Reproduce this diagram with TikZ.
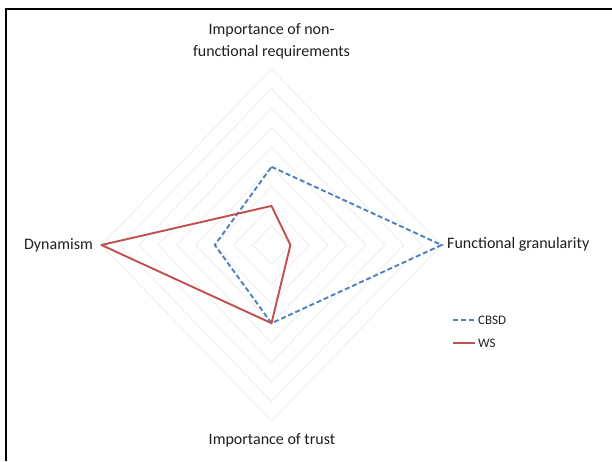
\documentclass[tikz,border=0pt]{standalone}
\usepackage{fontspec}
\setmainfont{Carlito}
\definecolor{cbsdblue}{HTML}{4F81BD}
\definecolor{wsred}{HTML}{C0504D}
\definecolor{gridgrey}{HTML}{EFEFEF}
\begin{document}
\begin{tikzpicture}[x=1pt,y=-1pt,
  gridline/.style={draw=gridgrey, line width=0.9pt},
  cbsdline/.style={draw=cbsdblue, line width=1.9pt, dash pattern=on 5pt off 2.8pt},
  wsline/.style={draw=wsred, line width=1.9pt},
  axislabel/.style={font=\fontsize{16}{22}\selectfont, text=black!88, align=center, inner sep=0pt},
  legendlabel/.style={font=\fontsize{13}{15}\selectfont, text=black!88, anchor=west, inner sep=0pt}]
  \useasboundingbox (0,0) rectangle (612,461);
  \fill[white] (0,0) rectangle (612,461);
  % frame
  \draw[line width=2.8pt, line join=miter] (6,461) -- (6,9) -- (612,9);

  % radar chart, scale 0..9
  \begin{scope}[shift={(271.5,245)}, x=18.9pt, y=19.55pt]
    \foreach \k in {1,...,9}
      \draw[gridline] (0,\k) -- (\k,0) -- (0,-\k) -- (-\k,0) -- cycle;
    % CBSD: non-functional 4, granularity 9, trust 4, dynamism 3
    \draw[cbsdline] (0,4) -- (9,0) -- (0,-4) -- (-3,0) -- cycle;
    % WS: non-functional 2, granularity 1, trust 4, dynamism 9
    \draw[wsline, line join=round] (0,2) -- (1,0) -- (0,-4) -- (-9,0) -- cycle;
  \end{scope}

  % axis labels
  \node[axislabel] (nfr) at (271.5,41) {Importance of non-\\functional requirements};
  \node[axislabel, anchor=west] (gran) at (447,244) {Functional granularity};
  \node[axislabel] (trust) at (272,440) {Importance of trust};
  \node[axislabel, anchor=east] (dyn) at (93,245) {Dynamism};

  % legend
  \coordinate (cbsdA) at (453,320);
  \coordinate (cbsdB) at (475,320);
  \coordinate (wsA) at (453,343);
  \coordinate (wsB) at (475,343);
  \draw[cbsdline, line width=1.6pt] (cbsdA) -- (cbsdB);
  \draw[wsline, line width=1.6pt] (wsA) -- (wsB);
  \node[legendlabel] (cbsdlab) at (478,320) {CBSD};
  \node[legendlabel] (wslab) at (478,343) {WS};
\end{tikzpicture}
\end{document}
